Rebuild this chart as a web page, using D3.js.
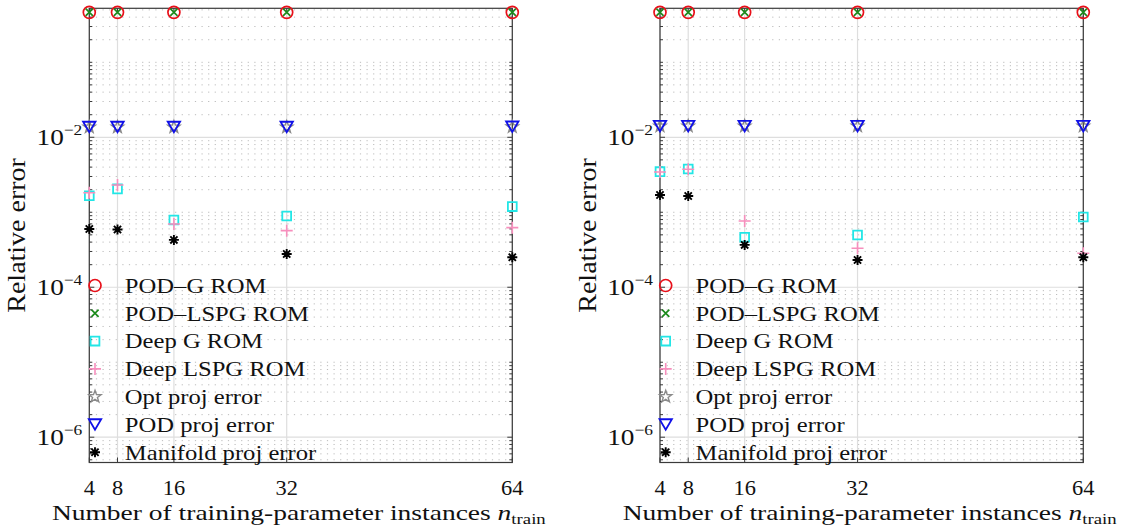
<!DOCTYPE html>
<html>
<head>
<meta charset="utf-8">
<script src="https://cdn.jsdelivr.net/npm/d3@7"></script>
<style>
  html, body { margin: 0; padding: 0; background: #fff; }
  svg { display: block; }
  text { font-family: "Liberation Serif", "DejaVu Serif", serif; fill: #111; }
</style>
</head>
<body>
<svg id="chart" width="1121" height="529"></svg>
<script>
// Training-set sizes and axis ticks
const nTrain = [4, 8, 16, 32, 64];
const xTicks = [4, 8, 16, 32, 64];
const yTickExps = [-6, -4, -2];

const seriesNames = [
  "POD\u2013G ROM",
  "POD\u2013LSPG ROM",
  "Deep G ROM",
  "Deep LSPG ROM",
  "Opt proj error",
  "POD proj error",
  "Manifold proj error"
];

// Left panel: relative errors per training-set size
const podG_A       = [0.464, 0.464, 0.464, 0.464, 0.464];
const podLSPG_A    = [0.464, 0.464, 0.464, 0.464, 0.464];
const deepG_A      = [1.66e-3, 2.05e-3, 7.9e-4, 8.9e-4, 1.19e-3];
const deepLSPG_A   = [1.82e-3, 2.31e-3, 6.98e-4, 5.69e-4, 6.23e-4];
const optProj_A    = [0.0137, 0.0137, 0.0137, 0.0137, 0.0138];
const podProj_A    = [0.0137, 0.0137, 0.0137, 0.0137, 0.0138];
const manifold_A   = [5.98e-4, 5.9e-4, 4.28e-4, 2.78e-4, 2.51e-4];

// Right panel
const podG_B       = [0.464, 0.464, 0.464, 0.464, 0.464];
const podLSPG_B    = [0.464, 0.464, 0.464, 0.464, 0.464];
const deepG_B      = [3.48e-3, 3.77e-3, 4.64e-4, 4.98e-4, 8.65e-4];
const deepLSPG_B   = [3.45e-3, 3.75e-3, 7.66e-4, 3.31e-4, 2.84e-4];
const optProj_B    = [0.0141, 0.0141, 0.0141, 0.0141, 0.0141];
const podProj_B    = [0.0141, 0.0141, 0.0141, 0.0141, 0.0141];
const manifold_B   = [1.70e-3, 1.65e-3, 3.67e-4, 2.31e-4, 2.51e-4];

const panelA = [podG_A, podLSPG_A, deepG_A, deepLSPG_A, optProj_A, podProj_A, manifold_A];
const panelB = [podG_B, podLSPG_B, deepG_B, deepLSPG_B, optProj_B, podProj_B, manifold_B];

// Marker styles, in series order
const markerStyles = [
  { shape: "circle",   color: "#e8101a", size: 6.0, width: 1.7 },
  { shape: "x",        color: "#1b8a1b", size: 3.6, width: 1.7 },
  { shape: "square",   color: "#22e6e6", size: 4.4, width: 1.8 },
  { shape: "plus",     color: "#f78fbd", size: 6.0, width: 1.6 },
  { shape: "star",     color: "#8a8a8a", size: 6.4, width: 1.4 },
  { shape: "triDown",  color: "#1010e8", size: 6.2, width: 1.8 },
  { shape: "asterisk", color: "#000000", size: 5.0, width: 1.9 }
];

const svg = d3.select("#chart");
const yTop = 8.3, yBot = 462.5;
const y = d3.scaleLog().domain([4.6e-7, 0.525]).range([yBot, yTop]);

function markerPath(shape, s) {
  switch (shape) {
    case "x": return `M${-s},${-s}L${s},${s}M${-s},${s}L${s},${-s}`;
    case "square": return `M${-s},${-s}H${s}V${s}H${-s}Z`;
    case "plus": return `M${-s},0H${s}M0,${-s}V${s}`;
    case "triDown": {
      const h = s * 0.85;
      return `M${-s},${-h}L${s},${-h}L0,${h}Z`;
    }
    case "asterisk": {
      const d = s * 0.72;
      return `M${-s},0H${s}M0,${-s}V${s}M${-d},${-d}L${d},${d}M${-d},${d}L${d},${-d}`;
    }
    case "star": {
      const pts = [];
      for (let i = 0; i < 10; i++) {
        const r = i % 2 === 0 ? s : s * 0.4;
        const a = -Math.PI / 2 + i * Math.PI / 5;
        pts.push([r * Math.cos(a), r * Math.sin(a)]);
      }
      return "M" + pts.map(p => p[0].toFixed(2) + "," + p[1].toFixed(2)).join("L") + "Z";
    }
    default: return "";
  }
}

function drawMarker(g, st, cx, cy) {
  if (st.shape === "circle") {
    g.append("circle").attr("cx", cx).attr("cy", cy).attr("r", st.size)
      .attr("fill", "none").attr("stroke", st.color).attr("stroke-width", st.width);
  } else {
    g.append("path").attr("transform", `translate(${cx},${cy})`)
      .attr("d", markerPath(st.shape, st.size))
      .attr("fill", "none").attr("stroke", st.color).attr("stroke-width", st.width)
      .attr("stroke-linejoin", "miter");
  }
}

// Stretched text helper: anchor point (ax, ay), horizontal scale sx
function label(g, ax, ay, sx, rot) {
  const t = g.append("g").attr("transform",
    `translate(${ax},${ay})` + (rot ? ` rotate(${rot})` : "") + ` scale(${sx},1)`);
  return t.append("text");
}

function drawPanel(x0, x1, values) {
  const g = svg.append("g");
  const x = d3.scaleLinear().domain([4, 64]).range([x0, x1]);

  // Minor grid (dotted) at every log sub-decade that is not a labelled tick
  const minor = [];
  for (let k = -7; k <= 0; k++) {
    for (let m = 1; m <= 9; m++) {
      const v = m * Math.pow(10, k);
      if (v < y.domain()[0] || v > y.domain()[1]) continue;
      if (m === 1 && yTickExps.includes(k)) continue;
      minor.push(v);
    }
  }
  g.append("g").selectAll("line").data(minor).join("line")
    .attr("x1", x0).attr("x2", x1)
    .attr("y1", d => y(d)).attr("y2", d => y(d))
    .attr("stroke", "#bcbcbc").attr("stroke-width", 1)
    .attr("stroke-dasharray", "1.2,5.4");

  // Major grid
  const majors = yTickExps.map(e => Math.pow(10, e));
  g.append("g").selectAll("line").data(majors).join("line")
    .attr("x1", x0).attr("x2", x1)
    .attr("y1", d => y(d)).attr("y2", d => y(d))
    .attr("stroke", "#dedede").attr("stroke-width", 1.2);
  g.append("g").selectAll("line").data(xTicks).join("line")
    .attr("x1", d => x(d)).attr("x2", d => x(d))
    .attr("y1", yTop).attr("y2", yBot)
    .attr("stroke", "#dedede").attr("stroke-width", 1.2);

  // Axis box
  g.append("rect").attr("x", x0).attr("y", yTop)
    .attr("width", x1 - x0).attr("height", yBot - yTop)
    .attr("fill", "none").attr("stroke", "#3a3a3a").attr("stroke-width", 1.2);

  // Inward ticks on left/right
  const tk = g.append("g").attr("stroke", "#3a3a3a").attr("stroke-width", 1);
  minor.forEach(v => {
    tk.append("line").attr("x1", x0).attr("x2", x0 + 3).attr("y1", y(v)).attr("y2", y(v));
    tk.append("line").attr("x1", x1).attr("x2", x1 - 3).attr("y1", y(v)).attr("y2", y(v));
  });
  majors.forEach(v => {
    tk.append("line").attr("x1", x0).attr("x2", x0 + 5).attr("y1", y(v)).attr("y2", y(v));
    tk.append("line").attr("x1", x1).attr("x2", x1 - 5).attr("y1", y(v)).attr("y2", y(v));
  });
  xTicks.forEach(v => {
    tk.append("line").attr("x1", x(v)).attr("x2", x(v)).attr("y1", yBot).attr("y2", yBot - 5);
    tk.append("line").attr("x1", x(v)).attr("x2", x(v)).attr("y1", yTop).attr("y2", yTop + 5);
  });

  // Data markers
  const mg = g.append("g");
  values.forEach((ser, si) => {
    ser.forEach((v, i) => drawMarker(mg, markerStyles[si], x(nTrain[i]), y(v)));
  });

  // X tick labels
  xTicks.forEach(v => {
    label(g, x(v), 494.5, 1.12).attr("text-anchor", "middle")
      .attr("font-size", 20).text(String(v));
  });

  // Y tick labels 10^k
  yTickExps.forEach(e => {
    const t = label(g, x0 - 7, y(Math.pow(10, e)) + 7.8, 1.16).attr("text-anchor", "end")
      .attr("font-size", 23.5);
    t.append("tspan").text("10");
    t.append("tspan").attr("font-size", 15).attr("dy", -10).text("\u2212" + (-e));
  });

  // Axis titles
  const xl = label(g, (x0 + x1) / 2 - 2, 520, 1.25).attr("text-anchor", "middle").attr("font-size", 22);
  xl.append("tspan").text("Number of training-parameter instances ");
  xl.append("tspan").attr("font-style", "italic").text("n");
  xl.append("tspan").attr("font-size", 15).attr("dy", 4).text("train");

  label(g, x0 - 64, (yTop + yBot) / 2, 1.12, -90).attr("text-anchor", "middle")
    .attr("font-size", 25).text("Relative error");

  // Legend (transparent, no frame)
  const lg = g.append("g");
  seriesNames.forEach((name, i) => {
    const ry = 285.5 + i * 27.8;
    drawMarker(lg, markerStyles[i], x0 + 5.7, ry);
    label(lg, x0 + 35.5, ry + 7.3, 1.12).attr("font-size", 22).text(name);
  });
}

drawPanel(89.3, 512.3, panelA);
drawPanel(660, 1083.3, panelB);
</script>
</body>
</html>
